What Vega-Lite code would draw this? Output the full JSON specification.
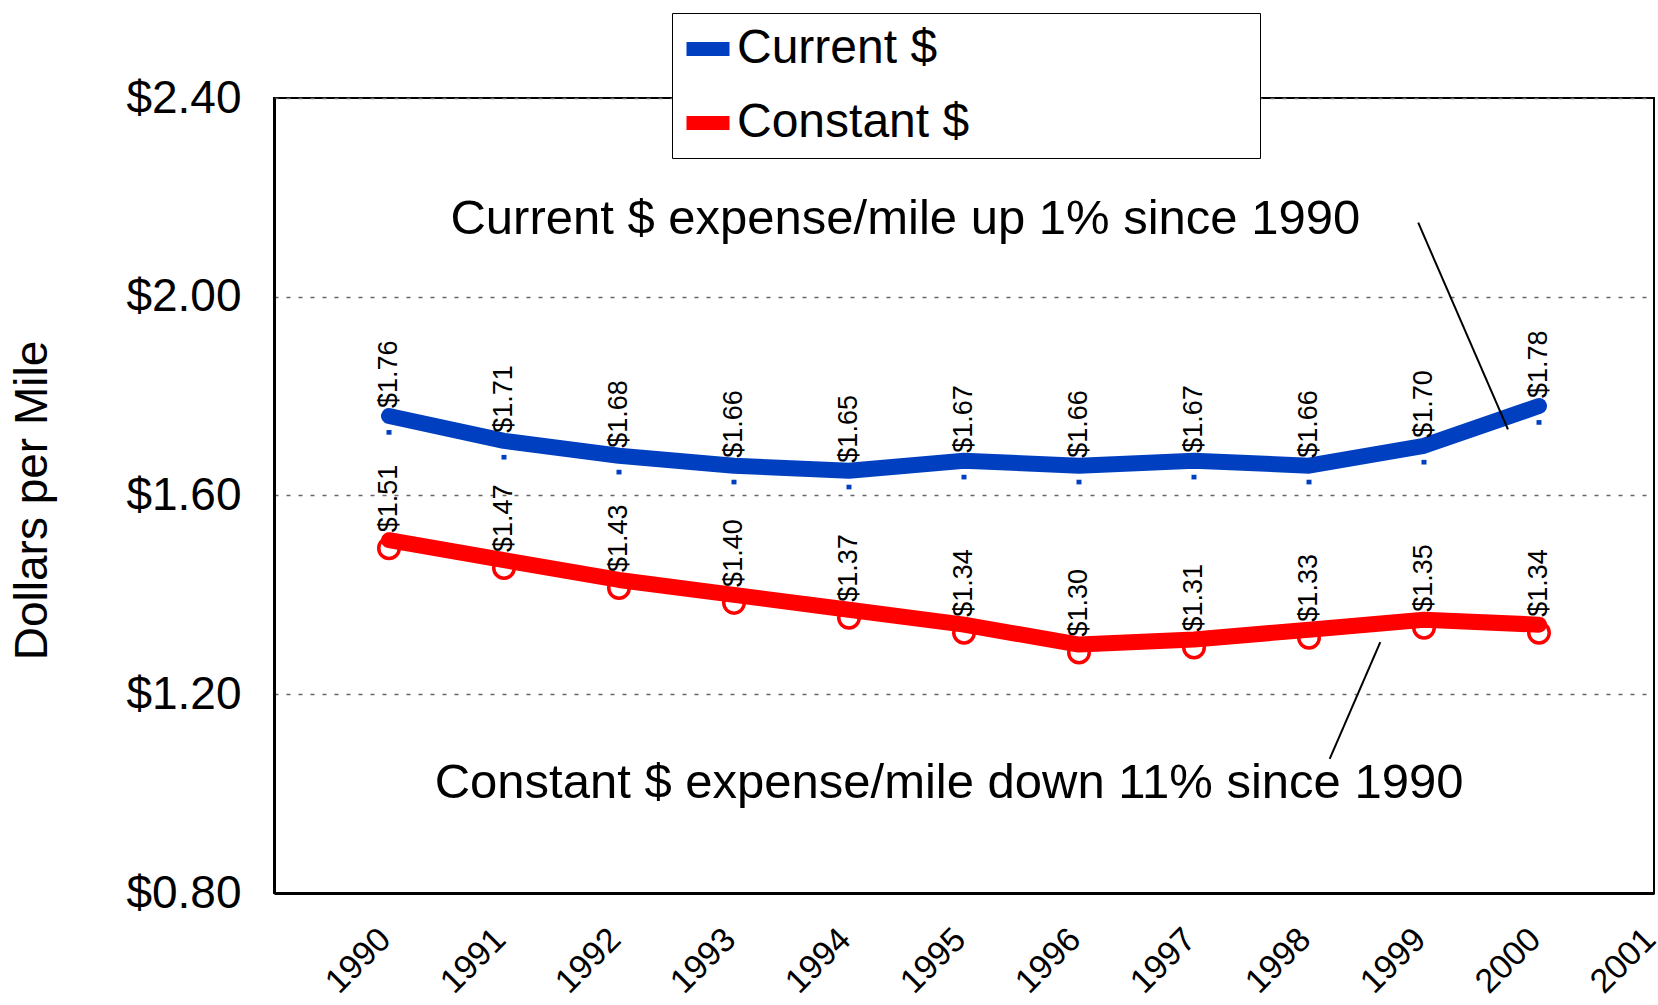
{
  "$schema": "https://vega.github.io/schema/vega-lite/v6.json",
  "width": 1380,
  "height": 795,
  "autosize": {"type": "none"},
  "padding": {"left": 274, "top": 98, "right": 4, "bottom": 112},
  "background": "white",
  "config": {
    "font": "Liberation Sans",
    "view": {"stroke": "black", "strokeWidth": 2}
  },
  "data": {
    "values": [
      {"year": 1990, "series": "Current $", "value": 1.76},
      {"year": 1991, "series": "Current $", "value": 1.71},
      {"year": 1992, "series": "Current $", "value": 1.68},
      {"year": 1993, "series": "Current $", "value": 1.66},
      {"year": 1994, "series": "Current $", "value": 1.65},
      {"year": 1995, "series": "Current $", "value": 1.67},
      {"year": 1996, "series": "Current $", "value": 1.66},
      {"year": 1997, "series": "Current $", "value": 1.67},
      {"year": 1998, "series": "Current $", "value": 1.66},
      {"year": 1999, "series": "Current $", "value": 1.70},
      {"year": 2000, "series": "Current $", "value": 1.78},
      {"year": 1990, "series": "Constant $", "value": 1.51},
      {"year": 1991, "series": "Constant $", "value": 1.47},
      {"year": 1992, "series": "Constant $", "value": 1.43},
      {"year": 1993, "series": "Constant $", "value": 1.40},
      {"year": 1994, "series": "Constant $", "value": 1.37},
      {"year": 1995, "series": "Constant $", "value": 1.34},
      {"year": 1996, "series": "Constant $", "value": 1.30},
      {"year": 1997, "series": "Constant $", "value": 1.31},
      {"year": 1998, "series": "Constant $", "value": 1.33},
      {"year": 1999, "series": "Constant $", "value": 1.35},
      {"year": 2000, "series": "Constant $", "value": 1.34}
    ]
  },
  "layer": [
    {
      "mark": {"type": "line", "strokeWidth": 16, "strokeCap": "round", "strokeJoin": "round"},
      "encoding": {
        "x": {
          "field": "year", "type": "quantitative",
          "scale": {"domain": [1989, 2001], "nice": false, "zero": false},
          "axis": {
            "values": [1990, 1991, 1992, 1993, 1994, 1995, 1996, 1997, 1998, 1999, 2000, 2001],
            "format": "d",
            "labelAngle": -45,
            "labelAlign": "right",
            "labelBaseline": "top",
            "labelFontSize": 34,
            "labelPadding": 29,
            "labelOffset": -16,
            "labelColor": "black",
            "labelFlush": false,
            "labelOverlap": false,
            "ticks": false,
            "grid": false,
            "domainColor": "black",
            "domainWidth": 3,
            "title": null
          }
        },
        "y": {
          "field": "value", "type": "quantitative",
          "scale": {"domain": [0.8, 2.4], "nice": false, "zero": false},
          "axis": {
            "values": [0.8, 1.2, 1.6, 2.0, 2.4],
            "format": "$.2f",
            "labelFontSize": 46,
            "labelPadding": 33,
            "labelColor": "black",
            "labelFlush": false,
            "ticks": false,
            "domainColor": "black",
            "domainWidth": 3,
            "grid": true,
            "gridColor": "#666666",
            "gridDash": [4, 8],
            "gridWidth": 1.5,
            "title": "Dollars per Mile",
            "titleFontSize": 46,
            "titleFontWeight": "normal",
            "titleColor": "black",
            "titleAngle": 270,
            "titleAlign": "center",
            "titleBaseline": "middle",
            "titleX": -242,
            "titleY": 402
          }
        },
        "color": {
          "field": "series", "type": "nominal",
          "scale": {"domain": ["Current $", "Constant $"], "range": ["#0040C0", "#FF0000"]},
          "legend": {
            "orient": "none",
            "legendX": 398,
            "legendY": -85,
            "direction": "vertical",
            "title": " ",
            "titleOrient": "right",
            "titlePadding": 284,
            "titleFontSize": 10,
            "strokeColor": "black",
            "fillColor": "white",
            "padding": 7,
            "rowPadding": 17,
            "symbolType": "stroke",
            "symbolStrokeWidth": 14,
            "symbolSize": 1850,
            "symbolOpacity": 1,
            "labelFontSize": 48,
            "labelOffset": 0,
            "labelColor": "black",
            "labelLimit": 0
          }
        }
      }
    },
    {
      "transform": [{"filter": "datum.series === 'Current $'"}],
      "mark": {"type": "point", "shape": "M0,0.75L0,1", "stroke": "#0040C0", "strokeWidth": 5, "size": 1400, "filled": false, "opacity": 1},
      "encoding": {
        "x": {"field": "year", "type": "quantitative"},
        "y": {"field": "value", "type": "quantitative"}
      }
    },
    {
      "transform": [{"filter": "datum.series === 'Constant $'"}],
      "mark": {"type": "point", "shape": "circle", "stroke": "#FF0000", "strokeWidth": 3.5, "size": 420, "filled": false, "opacity": 1, "yOffset": 8},
      "encoding": {
        "x": {"field": "year", "type": "quantitative"},
        "y": {"field": "value", "type": "quantitative"}
      }
    },
    {
      "mark": {"type": "text", "angle": 270, "align": "left", "baseline": "middle", "dx": 8, "fontSize": 27, "color": "black"},
      "encoding": {
        "x": {"field": "year", "type": "quantitative"},
        "y": {"field": "value", "type": "quantitative"},
        "text": {"field": "value", "type": "quantitative", "format": "$.2f"}
      }
    },
    {
      "data": {"values": [{}]},
      "mark": {"type": "rule", "color": "black", "strokeWidth": 2},
      "encoding": {
        "x": {"datum": 1998.95},
        "y": {"datum": 2.149},
        "x2": {"datum": 1999.73},
        "y2": {"datum": 1.733}
      }
    },
    {
      "data": {"values": [{}]},
      "mark": {"type": "rule", "color": "black", "strokeWidth": 2},
      "encoding": {
        "x": {"datum": 1998.62},
        "y": {"datum": 1.305},
        "x2": {"datum": 1998.18},
        "y2": {"datum": 1.07}
      }
    },
    {
      "data": {"values": [{}]},
      "mark": {"type": "text", "text": "Current $ expense/mile up 1% since 1990", "fontSize": 49, "fontWeight": "normal", "align": "center", "baseline": "middle", "color": "black"},
      "encoding": {
        "x": {"datum": 1994.49},
        "y": {"datum": 2.157}
      }
    },
    {
      "data": {"values": [{}]},
      "mark": {"type": "text", "text": "Constant $ expense/mile down 11% since 1990", "fontSize": 49, "fontWeight": "normal", "align": "center", "baseline": "middle", "color": "black"},
      "encoding": {
        "x": {"datum": 1994.87},
        "y": {"datum": 1.022}
      }
    }
  ]
}
